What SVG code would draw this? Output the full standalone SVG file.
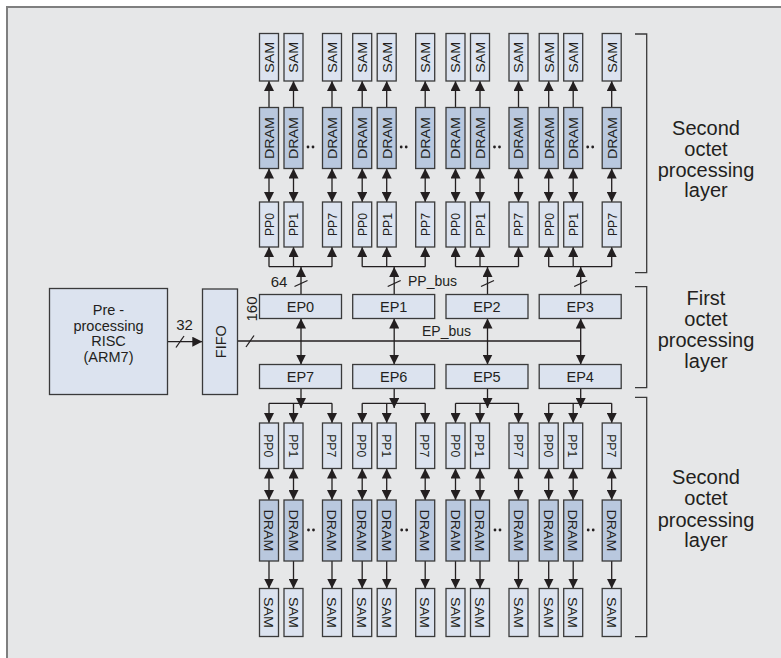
<svg xmlns="http://www.w3.org/2000/svg" width="781" height="658" viewBox="0 0 781 658">
<defs>
<marker id="ah" viewBox="0 0 10 10" refX="10" refY="5" markerWidth="10" markerHeight="10" markerUnits="userSpaceOnUse" orient="auto-start-reverse"><path d="M0,0L10,5L0,10z" fill="#231f20"/></marker>
<style>
.bx{fill:#dce3ef;stroke:#3a3a3a;stroke-width:1.3}
.dr{fill:#b9c8de;stroke:#3a3a3a;stroke-width:1.3}
.ln{stroke:#231f20;stroke-width:1.3;fill:none}
.a{marker-end:url(#ah)}
.d{marker-start:url(#ah);marker-end:url(#ah)}
.br{stroke:#3a3a3a;stroke-width:1.3;fill:none}
text{font-family:"Liberation Sans",Arial,sans-serif;fill:#231f20}
.v{font-size:13.5px;text-anchor:middle}
.ep{font-size:14.5px;text-anchor:middle}
.lb{font-size:14px}
.nm{font-size:15px;text-anchor:middle}
.big{font-size:20px;text-anchor:middle}
.pre{font-size:14.5px;text-anchor:middle}
.dot{fill:#231f20}
</style>
</defs>
<rect x="0" y="0" width="781" height="658" fill="#ffffff"/>
<rect x="7" y="7" width="790" height="670" fill="#e6e7e8" stroke="#7f7f7f" stroke-width="2"/>

<g id="connectors">
<path class="ln a" d="M269,107.5V81"/><path class="ln d" d="M269,168.5V202"/><path class="ln a" d="M269,266.7V247"/>
<path class="ln a" d="M293.5,107.5V81"/><path class="ln d" d="M293.5,168.5V202"/><path class="ln a" d="M293.5,266.7V247"/>
<path class="ln a" d="M332,107.5V81"/><path class="ln d" d="M332,168.5V202"/><path class="ln a" d="M332,266.7V247"/>
<path class="ln a" d="M362.2,107.5V81"/><path class="ln d" d="M362.2,168.5V202"/><path class="ln a" d="M362.2,266.7V247"/>
<path class="ln a" d="M386.7,107.5V81"/><path class="ln d" d="M386.7,168.5V202"/><path class="ln a" d="M386.7,266.7V247"/>
<path class="ln a" d="M425.2,107.5V81"/><path class="ln d" d="M425.2,168.5V202"/><path class="ln a" d="M425.2,266.7V247"/>
<path class="ln a" d="M455.5,107.5V81"/><path class="ln d" d="M455.5,168.5V202"/><path class="ln a" d="M455.5,266.7V247"/>
<path class="ln a" d="M480,107.5V81"/><path class="ln d" d="M480,168.5V202"/><path class="ln a" d="M480,266.7V247"/>
<path class="ln a" d="M518.5,107.5V81"/><path class="ln d" d="M518.5,168.5V202"/><path class="ln a" d="M518.5,266.7V247"/>
<path class="ln a" d="M548.7,107.5V81"/><path class="ln d" d="M548.7,168.5V202"/><path class="ln a" d="M548.7,266.7V247"/>
<path class="ln a" d="M573.2,107.5V81"/><path class="ln d" d="M573.2,168.5V202"/><path class="ln a" d="M573.2,266.7V247"/>
<path class="ln a" d="M611.7,107.5V81"/><path class="ln d" d="M611.7,168.5V202"/><path class="ln a" d="M611.7,266.7V247"/>
<path class="ln" d="M269,266.7H332"/><path class="ln" d="M362.2,266.7H425.2"/><path class="ln" d="M455.5,266.7H518.5"/><path class="ln" d="M548.7,266.7H611.7"/>
<path class="ln a" d="M301,294.5V267"/><path class="ln" d="M294.5,286.5L307.5,280.5"/>
<path class="ln a" d="M394.2,294.5V267"/><path class="ln" d="M387.7,286.5L400.7,280.5"/>
<path class="ln a" d="M487.5,294.5V267"/><path class="ln" d="M481,286.5L494,280.5"/>
<path class="ln a" d="M580.7,294.5V267"/><path class="ln" d="M574.2,286.5L587.2,280.5"/>
<path class="ln a" d="M167.3,341.7H202.3"/><path class="ln" d="M176,347.5L184,336"/>
<path class="ln" d="M237.3,341H580.7"/><path class="ln" d="M246,347L254,335.5"/>
<path class="ln d" d="M301,318.5V364.5"/>
<path class="ln d" d="M394.2,318.5V364.5"/>
<path class="ln d" d="M487.5,318.5V364.5"/>
<path class="ln d" d="M580.7,318.5V364.5"/>
<path class="ln a" d="M301,388.5V408"/>
<path class="ln a" d="M394.2,388.5V408"/>
<path class="ln a" d="M487.5,388.5V408"/>
<path class="ln a" d="M580.7,388.5V408"/>
<path class="ln" d="M269,403.3H332"/><path class="ln" d="M362.2,403.3H425.2"/><path class="ln" d="M455.5,403.3H518.5"/><path class="ln" d="M548.7,403.3H611.7"/>
<path class="ln a" d="M269,403.3V423"/><path class="ln d" d="M269,468.5V500"/><path class="ln a" d="M269,561V588.5"/>
<path class="ln a" d="M293.5,403.3V423"/><path class="ln d" d="M293.5,468.5V500"/><path class="ln a" d="M293.5,561V588.5"/>
<path class="ln a" d="M332,403.3V423"/><path class="ln d" d="M332,468.5V500"/><path class="ln a" d="M332,561V588.5"/>
<path class="ln a" d="M362.2,403.3V423"/><path class="ln d" d="M362.2,468.5V500"/><path class="ln a" d="M362.2,561V588.5"/>
<path class="ln a" d="M386.7,403.3V423"/><path class="ln d" d="M386.7,468.5V500"/><path class="ln a" d="M386.7,561V588.5"/>
<path class="ln a" d="M425.2,403.3V423"/><path class="ln d" d="M425.2,468.5V500"/><path class="ln a" d="M425.2,561V588.5"/>
<path class="ln a" d="M455.5,403.3V423"/><path class="ln d" d="M455.5,468.5V500"/><path class="ln a" d="M455.5,561V588.5"/>
<path class="ln a" d="M480,403.3V423"/><path class="ln d" d="M480,468.5V500"/><path class="ln a" d="M480,561V588.5"/>
<path class="ln a" d="M518.5,403.3V423"/><path class="ln d" d="M518.5,468.5V500"/><path class="ln a" d="M518.5,561V588.5"/>
<path class="ln a" d="M548.7,403.3V423"/><path class="ln d" d="M548.7,468.5V500"/><path class="ln a" d="M548.7,561V588.5"/>
<path class="ln a" d="M573.2,403.3V423"/><path class="ln d" d="M573.2,468.5V500"/><path class="ln a" d="M573.2,561V588.5"/>
<path class="ln a" d="M611.7,403.3V423"/><path class="ln d" d="M611.7,468.5V500"/><path class="ln a" d="M611.7,561V588.5"/>
</g>

<g id="labels">
<text class="nm" x="279" y="287">64</text>
<text class="lb" x="408" y="286">PP_bus</text>
<text class="lb" x="422" y="336">EP_bus</text>
<text class="nm" x="184.5" y="330">32</text>
<text class="nm" transform="translate(251.7,309) rotate(-90)" dy="0.36em">160</text>
</g>

<g id="pre"><rect class="bx" x="49.5" y="288.5" width="118" height="106"/>
<text class="pre" x="108.5" y="314.5">Pre -</text><text class="pre" x="108.5" y="330.5">processing</text><text class="pre" x="108.5" y="346">RISC</text><text class="pre" x="108.5" y="362">(ARM7)</text></g>
<g id="fifo"><rect class="bx" x="202.5" y="289" width="35" height="105.5"/><text class="pre" transform="translate(221,341.7) rotate(-90)" dy="0.36em">FIFO</text></g>

<g id="ep0"><rect class="bx" x="259.5" y="294.5" width="82" height="24"/><text class="ep" x="300.5" y="311.7">EP0</text></g>
<g id="ep1"><rect class="bx" x="352.7" y="294.5" width="82" height="24"/><text class="ep" x="393.7" y="311.7">EP1</text></g>
<g id="ep2"><rect class="bx" x="446" y="294.5" width="82" height="24"/><text class="ep" x="487" y="311.7">EP2</text></g>
<g id="ep3"><rect class="bx" x="539.2" y="294.5" width="82" height="24"/><text class="ep" x="580.2" y="311.7">EP3</text></g>
<g id="ep7"><rect class="bx" x="259.5" y="364.5" width="82" height="24"/><text class="ep" x="300.5" y="381.7">EP7</text></g>
<g id="ep6"><rect class="bx" x="352.7" y="364.5" width="82" height="24"/><text class="ep" x="393.7" y="381.7">EP6</text></g>
<g id="ep5"><rect class="bx" x="446" y="364.5" width="82" height="24"/><text class="ep" x="487" y="381.7">EP5</text></g>
<g id="ep4"><rect class="bx" x="539.2" y="364.5" width="82" height="24"/><text class="ep" x="580.2" y="381.7">EP4</text></g>

<g id="t-sam"><rect class="bx" x="259.5" y="33.5" width="19" height="47.5"/><rect class="bx" x="284" y="33.5" width="19" height="47.5"/><rect class="bx" x="322.5" y="33.5" width="19" height="47.5"/><rect class="bx" x="352.7" y="33.5" width="19" height="47.5"/><rect class="bx" x="377.2" y="33.5" width="19" height="47.5"/><rect class="bx" x="415.7" y="33.5" width="19" height="47.5"/><rect class="bx" x="446" y="33.5" width="19" height="47.5"/><rect class="bx" x="470.5" y="33.5" width="19" height="47.5"/><rect class="bx" x="509" y="33.5" width="19" height="47.5"/><rect class="bx" x="539.2" y="33.5" width="19" height="47.5"/><rect class="bx" x="563.7" y="33.5" width="19" height="47.5"/><rect class="bx" x="602.2" y="33.5" width="19" height="47.5"/>
<text class="v" textLength="31" lengthAdjust="spacingAndGlyphs" transform="translate(269,57.3) rotate(-90)" dy="0.36em">SAM</text>
<text class="v" textLength="31" lengthAdjust="spacingAndGlyphs" transform="translate(293.5,57.3) rotate(-90)" dy="0.36em">SAM</text>
<text class="v" textLength="31" lengthAdjust="spacingAndGlyphs" transform="translate(332,57.3) rotate(-90)" dy="0.36em">SAM</text>
<text class="v" textLength="31" lengthAdjust="spacingAndGlyphs" transform="translate(362.2,57.3) rotate(-90)" dy="0.36em">SAM</text>
<text class="v" textLength="31" lengthAdjust="spacingAndGlyphs" transform="translate(386.7,57.3) rotate(-90)" dy="0.36em">SAM</text>
<text class="v" textLength="31" lengthAdjust="spacingAndGlyphs" transform="translate(425.2,57.3) rotate(-90)" dy="0.36em">SAM</text>
<text class="v" textLength="31" lengthAdjust="spacingAndGlyphs" transform="translate(455.5,57.3) rotate(-90)" dy="0.36em">SAM</text>
<text class="v" textLength="31" lengthAdjust="spacingAndGlyphs" transform="translate(480,57.3) rotate(-90)" dy="0.36em">SAM</text>
<text class="v" textLength="31" lengthAdjust="spacingAndGlyphs" transform="translate(518.5,57.3) rotate(-90)" dy="0.36em">SAM</text>
<text class="v" textLength="31" lengthAdjust="spacingAndGlyphs" transform="translate(548.7,57.3) rotate(-90)" dy="0.36em">SAM</text>
<text class="v" textLength="31" lengthAdjust="spacingAndGlyphs" transform="translate(573.2,57.3) rotate(-90)" dy="0.36em">SAM</text>
<text class="v" textLength="31" lengthAdjust="spacingAndGlyphs" transform="translate(611.7,57.3) rotate(-90)" dy="0.36em">SAM</text>
</g>
<g id="t-dram"><rect class="dr" x="259.5" y="107.5" width="19" height="61"/><rect class="dr" x="284" y="107.5" width="19" height="61"/><rect class="dr" x="322.5" y="107.5" width="19" height="61"/><rect class="dr" x="352.7" y="107.5" width="19" height="61"/><rect class="dr" x="377.2" y="107.5" width="19" height="61"/><rect class="dr" x="415.7" y="107.5" width="19" height="61"/><rect class="dr" x="446" y="107.5" width="19" height="61"/><rect class="dr" x="470.5" y="107.5" width="19" height="61"/><rect class="dr" x="509" y="107.5" width="19" height="61"/><rect class="dr" x="539.2" y="107.5" width="19" height="61"/><rect class="dr" x="563.7" y="107.5" width="19" height="61"/><rect class="dr" x="602.2" y="107.5" width="19" height="61"/>
<text class="v" textLength="42" lengthAdjust="spacingAndGlyphs" transform="translate(269,138) rotate(-90)" dy="0.36em">DRAM</text>
<text class="v" textLength="42" lengthAdjust="spacingAndGlyphs" transform="translate(293.5,138) rotate(-90)" dy="0.36em">DRAM</text>
<text class="v" textLength="42" lengthAdjust="spacingAndGlyphs" transform="translate(332,138) rotate(-90)" dy="0.36em">DRAM</text>
<text class="v" textLength="42" lengthAdjust="spacingAndGlyphs" transform="translate(362.2,138) rotate(-90)" dy="0.36em">DRAM</text>
<text class="v" textLength="42" lengthAdjust="spacingAndGlyphs" transform="translate(386.7,138) rotate(-90)" dy="0.36em">DRAM</text>
<text class="v" textLength="42" lengthAdjust="spacingAndGlyphs" transform="translate(425.2,138) rotate(-90)" dy="0.36em">DRAM</text>
<text class="v" textLength="42" lengthAdjust="spacingAndGlyphs" transform="translate(455.5,138) rotate(-90)" dy="0.36em">DRAM</text>
<text class="v" textLength="42" lengthAdjust="spacingAndGlyphs" transform="translate(480,138) rotate(-90)" dy="0.36em">DRAM</text>
<text class="v" textLength="42" lengthAdjust="spacingAndGlyphs" transform="translate(518.5,138) rotate(-90)" dy="0.36em">DRAM</text>
<text class="v" textLength="42" lengthAdjust="spacingAndGlyphs" transform="translate(548.7,138) rotate(-90)" dy="0.36em">DRAM</text>
<text class="v" textLength="42" lengthAdjust="spacingAndGlyphs" transform="translate(573.2,138) rotate(-90)" dy="0.36em">DRAM</text>
<text class="v" textLength="42" lengthAdjust="spacingAndGlyphs" transform="translate(611.7,138) rotate(-90)" dy="0.36em">DRAM</text>
<circle class="dot" cx="308" cy="147" r="1.4"/><circle class="dot" cx="313" cy="147" r="1.4"/>
<circle class="dot" cx="401.2" cy="147" r="1.4"/><circle class="dot" cx="406.2" cy="147" r="1.4"/>
<circle class="dot" cx="494.5" cy="147" r="1.4"/><circle class="dot" cx="499.5" cy="147" r="1.4"/>
<circle class="dot" cx="587.7" cy="147" r="1.4"/><circle class="dot" cx="592.7" cy="147" r="1.4"/>
</g>
<g id="t-pp"><rect class="bx" x="259.5" y="202" width="19" height="45"/><rect class="bx" x="284" y="202" width="19" height="45"/><rect class="bx" x="322.5" y="202" width="19" height="45"/><rect class="bx" x="352.7" y="202" width="19" height="45"/><rect class="bx" x="377.2" y="202" width="19" height="45"/><rect class="bx" x="415.7" y="202" width="19" height="45"/><rect class="bx" x="446" y="202" width="19" height="45"/><rect class="bx" x="470.5" y="202" width="19" height="45"/><rect class="bx" x="509" y="202" width="19" height="45"/><rect class="bx" x="539.2" y="202" width="19" height="45"/><rect class="bx" x="563.7" y="202" width="19" height="45"/><rect class="bx" x="602.2" y="202" width="19" height="45"/>
<text class="v" textLength="23" lengthAdjust="spacingAndGlyphs" transform="translate(269,224.5) rotate(-90)" dy="0.36em">PP0</text>
<text class="v" textLength="23" lengthAdjust="spacingAndGlyphs" transform="translate(293.5,224.5) rotate(-90)" dy="0.36em">PP1</text>
<text class="v" textLength="23" lengthAdjust="spacingAndGlyphs" transform="translate(332,224.5) rotate(-90)" dy="0.36em">PP7</text>
<text class="v" textLength="23" lengthAdjust="spacingAndGlyphs" transform="translate(362.2,224.5) rotate(-90)" dy="0.36em">PP0</text>
<text class="v" textLength="23" lengthAdjust="spacingAndGlyphs" transform="translate(386.7,224.5) rotate(-90)" dy="0.36em">PP1</text>
<text class="v" textLength="23" lengthAdjust="spacingAndGlyphs" transform="translate(425.2,224.5) rotate(-90)" dy="0.36em">PP7</text>
<text class="v" textLength="23" lengthAdjust="spacingAndGlyphs" transform="translate(455.5,224.5) rotate(-90)" dy="0.36em">PP0</text>
<text class="v" textLength="23" lengthAdjust="spacingAndGlyphs" transform="translate(480,224.5) rotate(-90)" dy="0.36em">PP1</text>
<text class="v" textLength="23" lengthAdjust="spacingAndGlyphs" transform="translate(518.5,224.5) rotate(-90)" dy="0.36em">PP7</text>
<text class="v" textLength="23" lengthAdjust="spacingAndGlyphs" transform="translate(548.7,224.5) rotate(-90)" dy="0.36em">PP0</text>
<text class="v" textLength="23" lengthAdjust="spacingAndGlyphs" transform="translate(573.2,224.5) rotate(-90)" dy="0.36em">PP1</text>
<text class="v" textLength="23" lengthAdjust="spacingAndGlyphs" transform="translate(611.7,224.5) rotate(-90)" dy="0.36em">PP7</text>
</g>

<g id="b-pp"><rect class="bx" x="259.5" y="423" width="19" height="45.5"/><rect class="bx" x="284" y="423" width="19" height="45.5"/><rect class="bx" x="322.5" y="423" width="19" height="45.5"/><rect class="bx" x="352.7" y="423" width="19" height="45.5"/><rect class="bx" x="377.2" y="423" width="19" height="45.5"/><rect class="bx" x="415.7" y="423" width="19" height="45.5"/><rect class="bx" x="446" y="423" width="19" height="45.5"/><rect class="bx" x="470.5" y="423" width="19" height="45.5"/><rect class="bx" x="509" y="423" width="19" height="45.5"/><rect class="bx" x="539.2" y="423" width="19" height="45.5"/><rect class="bx" x="563.7" y="423" width="19" height="45.5"/><rect class="bx" x="602.2" y="423" width="19" height="45.5"/>
<text class="v" textLength="23" lengthAdjust="spacingAndGlyphs" transform="translate(269,445.7) rotate(90)" dy="0.36em">PP0</text>
<text class="v" textLength="23" lengthAdjust="spacingAndGlyphs" transform="translate(293.5,445.7) rotate(90)" dy="0.36em">PP1</text>
<text class="v" textLength="23" lengthAdjust="spacingAndGlyphs" transform="translate(332,445.7) rotate(90)" dy="0.36em">PP7</text>
<text class="v" textLength="23" lengthAdjust="spacingAndGlyphs" transform="translate(362.2,445.7) rotate(90)" dy="0.36em">PP0</text>
<text class="v" textLength="23" lengthAdjust="spacingAndGlyphs" transform="translate(386.7,445.7) rotate(90)" dy="0.36em">PP1</text>
<text class="v" textLength="23" lengthAdjust="spacingAndGlyphs" transform="translate(425.2,445.7) rotate(90)" dy="0.36em">PP7</text>
<text class="v" textLength="23" lengthAdjust="spacingAndGlyphs" transform="translate(455.5,445.7) rotate(90)" dy="0.36em">PP0</text>
<text class="v" textLength="23" lengthAdjust="spacingAndGlyphs" transform="translate(480,445.7) rotate(90)" dy="0.36em">PP1</text>
<text class="v" textLength="23" lengthAdjust="spacingAndGlyphs" transform="translate(518.5,445.7) rotate(90)" dy="0.36em">PP7</text>
<text class="v" textLength="23" lengthAdjust="spacingAndGlyphs" transform="translate(548.7,445.7) rotate(90)" dy="0.36em">PP0</text>
<text class="v" textLength="23" lengthAdjust="spacingAndGlyphs" transform="translate(573.2,445.7) rotate(90)" dy="0.36em">PP1</text>
<text class="v" textLength="23" lengthAdjust="spacingAndGlyphs" transform="translate(611.7,445.7) rotate(90)" dy="0.36em">PP7</text>
</g>
<g id="b-dram"><rect class="dr" x="259.5" y="500" width="19" height="61"/><rect class="dr" x="284" y="500" width="19" height="61"/><rect class="dr" x="322.5" y="500" width="19" height="61"/><rect class="dr" x="352.7" y="500" width="19" height="61"/><rect class="dr" x="377.2" y="500" width="19" height="61"/><rect class="dr" x="415.7" y="500" width="19" height="61"/><rect class="dr" x="446" y="500" width="19" height="61"/><rect class="dr" x="470.5" y="500" width="19" height="61"/><rect class="dr" x="509" y="500" width="19" height="61"/><rect class="dr" x="539.2" y="500" width="19" height="61"/><rect class="dr" x="563.7" y="500" width="19" height="61"/><rect class="dr" x="602.2" y="500" width="19" height="61"/>
<text class="v" textLength="42" lengthAdjust="spacingAndGlyphs" transform="translate(269,530.5) rotate(90)" dy="0.36em">DRAM</text>
<text class="v" textLength="42" lengthAdjust="spacingAndGlyphs" transform="translate(293.5,530.5) rotate(90)" dy="0.36em">DRAM</text>
<text class="v" textLength="42" lengthAdjust="spacingAndGlyphs" transform="translate(332,530.5) rotate(90)" dy="0.36em">DRAM</text>
<text class="v" textLength="42" lengthAdjust="spacingAndGlyphs" transform="translate(362.2,530.5) rotate(90)" dy="0.36em">DRAM</text>
<text class="v" textLength="42" lengthAdjust="spacingAndGlyphs" transform="translate(386.7,530.5) rotate(90)" dy="0.36em">DRAM</text>
<text class="v" textLength="42" lengthAdjust="spacingAndGlyphs" transform="translate(425.2,530.5) rotate(90)" dy="0.36em">DRAM</text>
<text class="v" textLength="42" lengthAdjust="spacingAndGlyphs" transform="translate(455.5,530.5) rotate(90)" dy="0.36em">DRAM</text>
<text class="v" textLength="42" lengthAdjust="spacingAndGlyphs" transform="translate(480,530.5) rotate(90)" dy="0.36em">DRAM</text>
<text class="v" textLength="42" lengthAdjust="spacingAndGlyphs" transform="translate(518.5,530.5) rotate(90)" dy="0.36em">DRAM</text>
<text class="v" textLength="42" lengthAdjust="spacingAndGlyphs" transform="translate(548.7,530.5) rotate(90)" dy="0.36em">DRAM</text>
<text class="v" textLength="42" lengthAdjust="spacingAndGlyphs" transform="translate(573.2,530.5) rotate(90)" dy="0.36em">DRAM</text>
<text class="v" textLength="42" lengthAdjust="spacingAndGlyphs" transform="translate(611.7,530.5) rotate(90)" dy="0.36em">DRAM</text>
<circle class="dot" cx="308.5" cy="530" r="1.4"/><circle class="dot" cx="313.5" cy="530" r="1.4"/>
<circle class="dot" cx="401.7" cy="530" r="1.4"/><circle class="dot" cx="406.7" cy="530" r="1.4"/>
<circle class="dot" cx="495" cy="530" r="1.4"/><circle class="dot" cx="500" cy="530" r="1.4"/>
<circle class="dot" cx="588.2" cy="530" r="1.4"/><circle class="dot" cx="593.2" cy="530" r="1.4"/>
</g>
<g id="b-sam"><rect class="bx" x="259.5" y="588.5" width="19" height="48"/><rect class="bx" x="284" y="588.5" width="19" height="48"/><rect class="bx" x="322.5" y="588.5" width="19" height="48"/><rect class="bx" x="352.7" y="588.5" width="19" height="48"/><rect class="bx" x="377.2" y="588.5" width="19" height="48"/><rect class="bx" x="415.7" y="588.5" width="19" height="48"/><rect class="bx" x="446" y="588.5" width="19" height="48"/><rect class="bx" x="470.5" y="588.5" width="19" height="48"/><rect class="bx" x="509" y="588.5" width="19" height="48"/><rect class="bx" x="539.2" y="588.5" width="19" height="48"/><rect class="bx" x="563.7" y="588.5" width="19" height="48"/><rect class="bx" x="602.2" y="588.5" width="19" height="48"/>
<text class="v" textLength="31" lengthAdjust="spacingAndGlyphs" transform="translate(269,612.5) rotate(90)" dy="0.36em">SAM</text>
<text class="v" textLength="31" lengthAdjust="spacingAndGlyphs" transform="translate(293.5,612.5) rotate(90)" dy="0.36em">SAM</text>
<text class="v" textLength="31" lengthAdjust="spacingAndGlyphs" transform="translate(332,612.5) rotate(90)" dy="0.36em">SAM</text>
<text class="v" textLength="31" lengthAdjust="spacingAndGlyphs" transform="translate(362.2,612.5) rotate(90)" dy="0.36em">SAM</text>
<text class="v" textLength="31" lengthAdjust="spacingAndGlyphs" transform="translate(386.7,612.5) rotate(90)" dy="0.36em">SAM</text>
<text class="v" textLength="31" lengthAdjust="spacingAndGlyphs" transform="translate(425.2,612.5) rotate(90)" dy="0.36em">SAM</text>
<text class="v" textLength="31" lengthAdjust="spacingAndGlyphs" transform="translate(455.5,612.5) rotate(90)" dy="0.36em">SAM</text>
<text class="v" textLength="31" lengthAdjust="spacingAndGlyphs" transform="translate(480,612.5) rotate(90)" dy="0.36em">SAM</text>
<text class="v" textLength="31" lengthAdjust="spacingAndGlyphs" transform="translate(518.5,612.5) rotate(90)" dy="0.36em">SAM</text>
<text class="v" textLength="31" lengthAdjust="spacingAndGlyphs" transform="translate(548.7,612.5) rotate(90)" dy="0.36em">SAM</text>
<text class="v" textLength="31" lengthAdjust="spacingAndGlyphs" transform="translate(573.2,612.5) rotate(90)" dy="0.36em">SAM</text>
<text class="v" textLength="31" lengthAdjust="spacingAndGlyphs" transform="translate(611.7,612.5) rotate(90)" dy="0.36em">SAM</text>
</g>

<g id="layer-top"><path class="br" d="M635,34H646.7V272.7H635"/>
<text class="big" x="706" y="135">Second</text><text class="big" x="706" y="156">octet</text><text class="big" x="706" y="177">processing</text><text class="big" x="706" y="197">layer</text></g>
<g id="layer-first"><path class="br" d="M635,286.7H646.7V387.7H635"/>
<text class="big" x="706" y="305">First</text><text class="big" x="706" y="326">octet</text><text class="big" x="706" y="347">processing</text><text class="big" x="706" y="368">layer</text></g>
<g id="layer-bottom"><path class="br" d="M635,397.3H646.7V636.7H635"/>
<text class="big" x="706" y="483.5">Second</text><text class="big" x="706" y="505">octet</text><text class="big" x="706" y="526.5">processing</text><text class="big" x="706" y="547">layer</text></g>
</svg>
